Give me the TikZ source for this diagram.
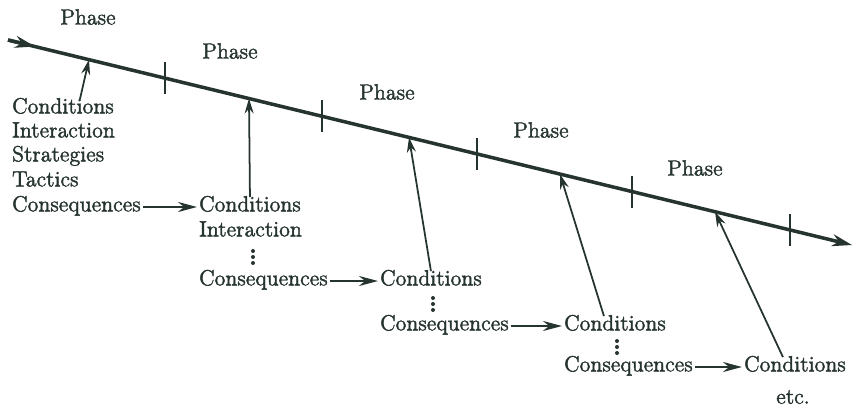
\documentclass[tikz,border=0pt]{standalone}
\usepackage{fontspec}
\usetikzlibrary{arrows.meta,calc}
\newfontfamily\heavy{Latin Modern Roman}[FakeBold=1.8]
\definecolor{ink}{RGB}{38,52,48}
\tikzset{
  txt/.style={font=\heavy\fontsize{12.5}{15}\selectfont, text=ink},
  lbl/.style={txt, inner sep=1pt, anchor=west, text height=1.6ex, text depth=0.45ex},
  phase/.style={txt, inner sep=0pt},
  up/.style={draw=ink, line width=1pt, -{Stealth[length=3mm,width=1.8mm]}},
  carry/.style={draw=ink, line width=1.4pt, -{Stealth[length=3.8mm,width=2mm]}},
  axis/.style={draw=ink, line width=2pt}
}
\begin{document}
\begin{tikzpicture}[x=0.02cm,y=-0.02cm]
  \useasboundingbox (0,0) rectangle (855,410);
  % time line with phase ticks
  \coordinate (start) at (8,40);
  \coordinate (end) at (852,245);
  \draw[axis, -{Stealth[length=4mm,width=2.4mm]}] (start) -- (end);
  \draw[axis, -{Stealth[length=4mm,width=2.4mm]}] (start) -- ($(start)!0.032!(end)$);
  \foreach \t in {165,322,477,632,790}
    \draw[ink, line width=1pt] ($(start)!{(\t-8)/844}!(end)$) +(0,-16) -- +(0,16);
  \foreach \x [count=\k] in {89,249,409,560,715}
    \coordinate (p\k) at ($(start)!{(\x-8)/844}!(end)$);
  \foreach \x/\y [count=\k] in {88/17,230/51,387/92,541/130,695/168}
    \node[phase] (ph\k) at (\x,\y) {Phase};
  % first phase
  \node[lbl] (c1) at (10,109) {Conditions};
  \node[lbl] (i1) at (10,133) {Interaction};
  \node[lbl] (s1) at (10,157) {Strategies};
  \node[lbl] (t1) at (10,182) {Tactics};
  \node[lbl] (q1) at (10,207) {Consequences};
  % second phase
  \node[lbl] (c2) at (197,207) {Conditions};
  \node[lbl] (i2) at (197,232) {Interaction};
  \coordinate (d2) at (253,257);
  \node[lbl] (q2) at (197,281) {Consequences};
  % third phase
  \node[lbl] (c3) at (378,281) {Conditions};
  \coordinate (d3) at (433,304);
  \node[lbl] (q3) at (378,326) {Consequences};
  % fourth phase
  \node[lbl] (c4) at (562,326) {Conditions};
  \coordinate (d4) at (617,347);
  \node[lbl] (q4) at (562,367) {Consequences};
  % fifth phase
  \node[lbl] (c5) at (742,367) {Conditions};
  \node[phase] (etc) at (793,397) {etc.};
  % skipped rows
  \foreach \d in {d2,d3,d4}
    \foreach \o in {-6,0,6}
      \fill[ink] ($(\d)+(0,\o)$) circle (2);
  % links
  \draw[carry] (q1.east) -- (c2.west);
  \draw[carry] (q2.east) -- (c3.west);
  \draw[carry] (q3.east) -- (c4.west);
  \draw[carry] (q4.east) -- (c5.west);
  \draw[up] ($(c1.north)+(17,0)$) -- (p1);
  \draw[up] (c2.north) -- (p2);
  \draw[up] (c3.north) -- (p3);
  \draw[up] ($(c4.north)+(-11,0)$) -- (p4);
  \draw[up] ($(c5.north)+(-12,0)$) -- (p5);
\end{tikzpicture}
\end{document}
